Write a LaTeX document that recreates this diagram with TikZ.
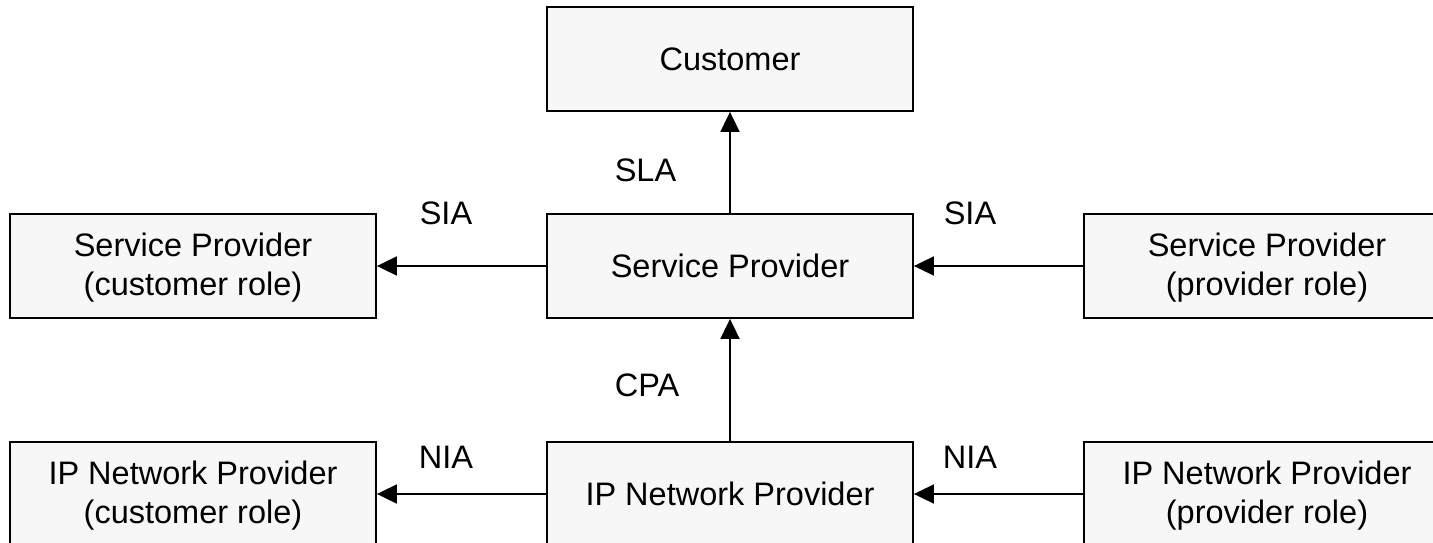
\documentclass[tikz,border=0pt]{standalone}
\usepackage{fontspec}
\setmainfont{Liberation Sans}
\usetikzlibrary{arrows.meta}
\definecolor{boxfill}{HTML}{F7F7F7}
\tikzset{
  rolebox/.style={draw=black, line width=1.8pt, fill=boxfill, rectangle,
    minimum width=366pt, minimum height=104pt, inner sep=0pt},
  boxtext/.style={align=center, font=\fontsize{32.5}{39}\selectfont, inner sep=0pt},
  flow/.style={line width=1.8pt, -{Triangle[length=20pt,width=19pt]}},
  agreement/.style={font=\fontsize{32.5}{39}\selectfont, inner sep=0pt}
}
\begin{document}
\begin{tikzpicture}[x=1pt,y=-1pt]
  \useasboundingbox (0,0) rectangle (1433,543);
  \clip (0,0) rectangle (1433,543);

  % top row
  \node[rolebox, boxtext] (cust) at (730,59) {Customer};

  % service provider row
  \node[rolebox, boxtext] (sp) at (730,266) {Service Provider};
  \node[rolebox] (spc) at (193,266) {};
  \node[boxtext] (spctext) at (193,268) {Service Provider\\(customer role)};
  \node[rolebox] (spp) at (1267,266) {};
  \node[boxtext] (spptext) at (1267,268) {Service Provider\\(provider role)};

  % network provider row
  \node[rolebox, boxtext] (ipn) at (730,494) {IP Network Provider};
  \node[rolebox] (ipc) at (193,494) {};
  \node[boxtext] (ipctext) at (193,496) {IP Network Provider\\(customer role)};
  \node[rolebox] (ipp) at (1267,494) {};
  \node[boxtext] (ipptext) at (1267,496) {IP Network Provider\\(provider role)};

  % agreements between the parties
  \draw[flow] (sp.north) -- (cust.south);
  \draw[flow] (ipn.north) -- (sp.south);
  \draw[flow] (sp.west) -- (spc.east);
  \draw[flow] (spp.west) -- (sp.east);
  \draw[flow] (ipn.west) -- (ipc.east);
  \draw[flow] (ipp.west) -- (ipn.east);

  % agreement labels
  \node[agreement] (sla) at (645.5,170) {SLA};
  \node[agreement] (cpa) at (647,385) {CPA};
  \node[agreement] (sial) at (446,213) {SIA};
  \node[agreement] (siar) at (970,213) {SIA};
  \node[agreement] (nial) at (446,457) {NIA};
  \node[agreement] (niar) at (970,457) {NIA};
\end{tikzpicture}
\end{document}
